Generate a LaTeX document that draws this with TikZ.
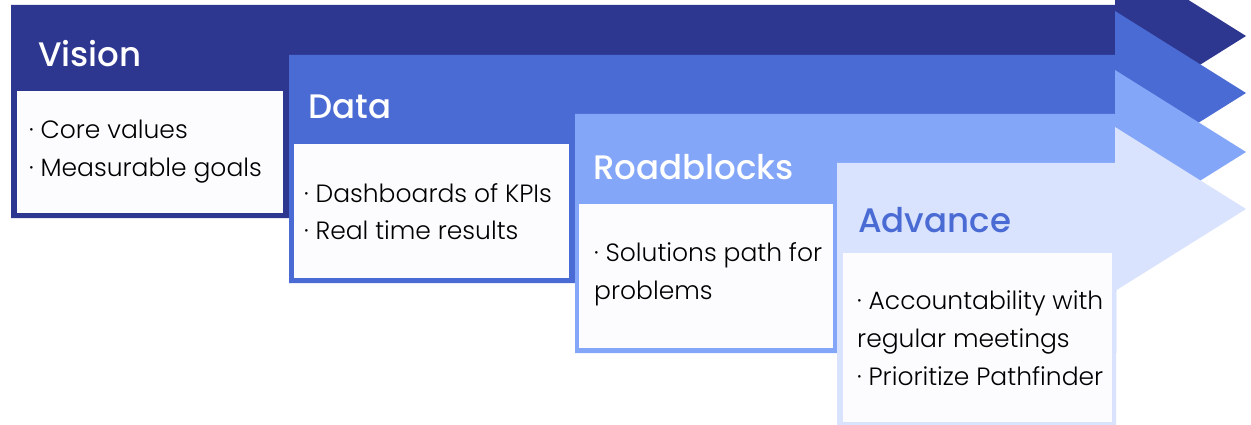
\documentclass[tikz,border=0pt]{standalone}
\usepackage{fontspec}
\setmainfont{Poppins}
\newfontfamily\stagehead{Poppins Medium}
\newfontfamily\stagelight{Poppins Light}
\definecolor{StageNavy}{HTML}{2E3790}
\definecolor{StageBlue}{HTML}{4A6AD4}
\definecolor{StageSky}{HTML}{84A6F8}
\definecolor{StagePale}{HTML}{D9E3FE}
\definecolor{StagePaper}{HTML}{FCFCFE}
\usetikzlibrary{positioning}

\tikzset{
  stagetitle/.style={anchor=base west, inner sep=0pt, text=white,
    font=\stagehead\fontsize{34}{34}\selectfont},
  stageitems/.style={anchor=base west, inner sep=0pt, align=left, text=black,
    font=\stagelight\fontsize{25}{38}\selectfont},
  stagecard/.style={fill=StagePaper}
}

% arrow band + card frame: colour, left x, top y, tip y, bottom y
\newcommand\stageshape[5]{%
  \fill[#1] (#2,#3) -- (1115,#3) -- (1115,#4-82) -- (1246,#4)
    -- (1115,#4+82) -- (1116,#4+82) -- (1116,#5) -- (#2,#5) -- cycle;}

\begin{document}
\begin{tikzpicture}[x=1pt,y=-1pt]
  \useasboundingbox (0,0) rectangle (1251,425);
  \fill[white] (0,0) rectangle (1251,425);
  \clip (0,0) rectangle (1251,425);

  % Vision
  \stageshape{StageNavy}{11}{5}{36}{218}
  \fill[stagecard] (17,91) rectangle (283,213);
  \node[stagetitle] (vision) at (38,67) {Vision};
  % base = last line
  \node[stageitems] (visionitems) at (29,177) {· Core values\\· Measurable goals};

  % Data
  \stageshape{StageBlue}{289}{55}{93}{283}
  \fill[stagecard] (294,144) rectangle (569,278);
  \node[stagetitle] (data) at (308,119) {Data};
  \node[stageitems] (dataitems) at (304,240) {· Dashboards of KPIs\\· Real time results};

  % Roadblocks
  \stageshape{StageSky}{575}{114}{152}{353}
  \fill[stagecard] (579,204) rectangle (833,348);
  \node[stagetitle] (roadblocks) at (593,180) {Roadblocks};
  \node[stageitems] (roadblocksitems) at (594,299) {· Solutions path for\\problems};

  % Advance
  \stageshape{StagePale}{837}{163}{209}{430}
  \fill[stagecard] (843,253) rectangle (1112,422);
  \node[stagetitle, text=StageBlue] (advance) at (858,233) {Advance};
  \node[stageitems] (advanceitems) at (857,385)
    {· Accountability with\\regular meetings\\· Prioritize Pathfinder};
\end{tikzpicture}
\end{document}
